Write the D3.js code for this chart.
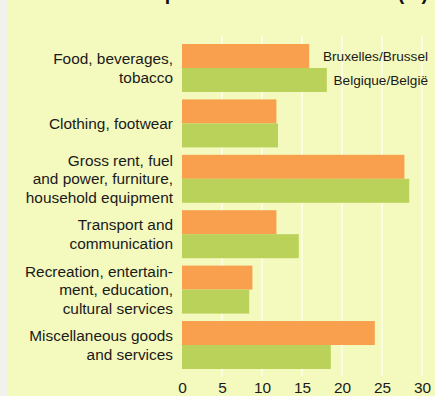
<!DOCTYPE html>
<html>
<head>
<meta charset="utf-8">
<script src="https://cdn.jsdelivr.net/npm/d3@7"></script>
<style>
  html, body { margin: 0; padding: 0; background: #f1f2ec; }
  svg { display: block; font-family: "Liberation Sans", Arial, sans-serif; }
</style>
</head>
<body>
<script>
// categories (label lines) and series values
var categories = ["food", "clothing", "rent", "transport", "recreation", "misc"];
var labelLines = [
    ["Food, beverages,", "tobacco"],
    ["Clothing, footwear"],
    ["Gross rent, fuel", "and power, furniture,", "household equipment"],
    ["Transport and", "communication"],
    ["Recreation, entertain-", "ment, education,", "cultural services"],
    ["Miscellaneous goods", "and services"]
];
var seriesNames = ["Bruxelles/Brussel", "Belgique/België"];
var brussels = [15.9, 11.8, 27.8, 11.8, 8.8, 24.1];
var belgium  = [18.1, 12.0, 28.4, 14.6, 8.4, 18.6];
var tickValues = [0, 5, 10, 15, 20, 25, 30];
var titleText = "Household expenditure structure 2005 (%)";

var W = 435, H = 396;
var colors = ["#f9a04f", "#bad15a"];

var svg = d3.select("body").append("svg")
    .attr("width", W)
    .attr("height", H);

// panel background
svg.append("rect").attr("x", 0).attr("y", 0).attr("width", W).attr("height", H).attr("fill", "#f1f2ec");
svg.append("rect").attr("x", 8).attr("y", 0).attr("width", W - 8).attr("height", H).attr("fill", "#f4f9bd");

// title, cut off at the top like in the scan
svg.append("text")
    .attr("x", 428).attr("y", 0)
    .attr("text-anchor", "end")
    .attr("font-size", 19.5)
    .attr("font-weight", "bold")
    .attr("fill", "#111")
    .text(titleText);

var x = d3.scaleLinear().domain([0, 30]).range([182, 422]);
var y0 = d3.scaleBand().domain(categories).range([44, 369]).paddingInner(0.134);
var y1 = d3.scaleBand().domain(seriesNames).range([0, y0.bandwidth()]);

// faint vertical grid
svg.append("g").selectAll("line")
    .data(tickValues.slice(1))
    .enter().append("line")
    .attr("x1", d => x(d)).attr("x2", d => x(d))
    .attr("y1", 36).attr("y2", 376)
    .attr("stroke", "#fbfde2")
    .attr("stroke-width", 2);

// bars
var rows = categories.map((c, i) => ({ cat: c, vals: [brussels[i], belgium[i]] }));
var grp = svg.append("g").selectAll("g")
    .data(rows)
    .enter().append("g")
    .attr("transform", d => "translate(0," + y0(d.cat) + ")");

grp.selectAll("rect")
    .data(d => d.vals.map((v, j) => ({ s: seriesNames[j], v: v, j: j })))
    .enter().append("rect")
    .attr("x", x(0))
    .attr("y", d => y1(d.s))
    .attr("width", d => x(d.v) - x(0))
    .attr("height", y1.bandwidth())
    .attr("fill", d => colors[d.j]);

// category labels
var lh = 18.5;
svg.append("g").selectAll("text")
    .data(rows)
    .enter().append("text")
    .attr("text-anchor", "end")
    .attr("font-size", 15.4)
    .attr("fill", "#1a1a1a")
    .each(function(d, i) {
        var lines = labelLines[i];
        var cy = y0(d.cat) + y0.bandwidth() / 2;
        var first = cy - (lines.length - 1) * lh / 2 + 5.5;
        d3.select(this).selectAll("tspan")
            .data(lines)
            .enter().append("tspan")
            .attr("x", 173)
            .attr("y", (t, k) => first + k * lh)
            .text(t => t);
    });

// legend, inside the first group
svg.append("g").selectAll("text")
    .data(seriesNames)
    .enter().append("text")
    .attr("x", 428)
    .attr("y", (d, i) => y0(categories[0]) + y1(d) + y1.bandwidth() / 2 + 5)
    .attr("text-anchor", "end")
    .attr("font-size", 13.6)
    .attr("fill", "#1a1a1a")
    .text(d => d);

// x axis
var xAxis = d3.axisBottom(x).tickValues(tickValues).tickSize(0).tickPadding(2);
var ax = svg.append("g")
    .attr("transform", "translate(0,380)")
    .call(xAxis);
ax.select(".domain").remove();
ax.selectAll("text")
    .attr("font-size", 15.4)
    .attr("font-family", "Liberation Sans, Arial, sans-serif")
    .attr("fill", "#1a1a1a");
</script>
</body>
</html>
